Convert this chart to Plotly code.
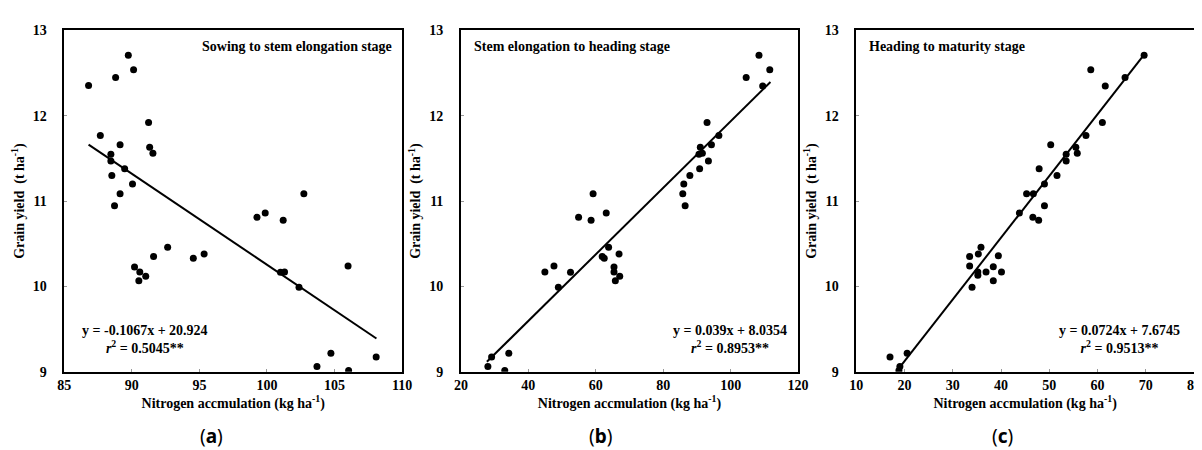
import plotly.graph_objects as go

# ---------------- data ----------------
xa = [86.8, 88.8, 89.74, 90.13, 87.67, 91.24, 89.13, 91.32, 91.56, 88.45, 88.45, 89.47, 88.52, 90.05,
      89.13, 88.72, 99.26, 99.87, 101.2, 102.73, 90.2, 90.59, 90.52, 91.03, 91.61, 92.65, 94.55, 95.35,
      101.0, 101.3, 102.37, 106.0, 103.7, 104.73, 106.04, 108.08]
ya = [12.354, 12.45, 12.71, 12.54, 11.77, 11.92, 11.66, 11.63, 11.56, 11.55, 11.47, 11.38, 11.30, 11.20,
      11.085, 10.945, 10.81, 10.86, 10.775, 11.085, 10.228, 10.17, 10.065, 10.12, 10.35, 10.46, 10.33, 10.38,
      10.167, 10.17, 9.99, 10.24, 9.06, 9.215, 9.015, 9.173]

xb = [108.4, 111.6, 104.6, 109.5, 93.0, 96.5, 94.3, 91.0, 91.6, 90.6, 93.4, 90.8, 87.9, 86.1, 85.8, 59.2,
      86.5, 54.9, 63.1, 58.6, 63.8, 61.9, 62.5, 66.9, 47.6, 44.9, 52.5, 65.4, 65.4, 65.8, 67.1, 48.9,
      28.0, 29.1, 34.2, 33.0]
yb = [12.71, 12.54, 12.45, 12.35, 11.92, 11.77, 11.66, 11.63, 11.56, 11.55, 11.47, 11.38, 11.30, 11.20,
      11.085, 11.085, 10.945, 10.81, 10.86, 10.775, 10.46, 10.35, 10.33, 10.38, 10.24, 10.17, 10.167, 10.228,
      10.17, 10.065, 10.12, 9.99, 9.06, 9.173, 9.215, 9.015]

xc = [69.65, 58.6, 65.7, 61.6, 61.0, 57.6, 50.3, 55.5, 55.8, 53.5, 53.5, 47.9, 51.6, 49.0, 45.3, 46.7,
      49.0, 43.8, 46.6, 47.8, 35.85, 33.5, 35.3, 39.45, 33.5, 38.4, 35.2, 36.9, 40.1, 35.2, 38.4, 34.0,
      17.0, 20.55, 19.05, 18.85]
yc = [12.71, 12.54, 12.45, 12.35, 11.92, 11.77, 11.66, 11.63, 11.56, 11.55, 11.47, 11.38, 11.30, 11.20,
      11.085, 11.085, 10.945, 10.86, 10.81, 10.775, 10.46, 10.35, 10.38, 10.36, 10.24, 10.23, 10.17, 10.17,
      10.17, 10.13, 10.065, 9.99, 9.173, 9.215, 9.06, 9.015]

slopes = [-0.1067, 0.039, 0.0724]
intercepts = [20.924, 8.0354, 7.6745]
fit_ranges = [[86.8, 108.1], [27.7, 111.8], [19.0, 69.65]]
r2_values = ["0.5045", "0.8953", "0.9513"]
eq_texts = ["y = -0.1067x + 20.924", "y = 0.039x + 8.0354", "y = 0.0724x + 7.6745"]
stage_titles = ["Sowing to stem elongation stage", "Stem elongation to heading stage", "Heading to maturity stage"]
panel_labels = ["a", "b", "c"]
x_ranges = [[85, 110], [20, 120], [10, 80]]
x_dticks = [5, 20, 10]
y_ticks = [9, 10, 11, 12, 13]

# ---------------- figure ----------------
W, H = 1202, 450
fig = go.Figure()

doms_px = [(50, 393), (452.7, 795), (854, 1197)]
y_top, y_bot = 16, 369
ydom = [(H - y_bot) / H, (H - y_top) / H]

serif = "Times New Roman, Liberation Serif, DejaVu Serif, serif"
datasets = [(xa, ya), (xb, yb), (xc, yc)]

for i, (xs, ys) in enumerate(datasets):
    ax = "" if i == 0 else str(i + 1)
    xref = "x" + ax
    yref = "y" + ax
    fig.add_trace(go.Scatter(x=xs, y=ys, mode="markers",
                             marker=dict(color="black", size=7),
                             xaxis=xref, yaxis=yref, showlegend=False, hoverinfo="x+y"))
    lx = fit_ranges[i]
    ly = [slopes[i] * v + intercepts[i] for v in lx]
    fig.add_trace(go.Scatter(x=lx, y=ly, mode="lines",
                             line=dict(color="black", width=2),
                             xaxis=xref, yaxis=yref, showlegend=False, hoverinfo="skip"))

    axis_common = dict(showline=True, linecolor="black", linewidth=1.5, mirror=True,
                       ticks="inside", ticklen=3, tickcolor="#999999", tickwidth=1,
                       showgrid=False, zeroline=False,
                       tickfont=dict(family=serif, size=14, color="black", weight="bold"))
    d = doms_px[i]
    fig.layout["xaxis" + ax] = dict(domain=[d[0] / W, d[1] / W], range=x_ranges[i],
                                    dtick=x_dticks[i], tick0=x_ranges[i][0],
                                    anchor=yref,
                                    title=dict(text="Nitrogen accmulation (kg ha<sup>-1</sup>)",
                                               font=dict(family=serif, size=14, color="black", weight="bold"),
                                               standoff=3),
                                    **axis_common)
    fig.layout["yaxis" + ax] = dict(domain=ydom, range=[9, 13], tickvals=y_ticks,
                                    anchor=xref, ticklabelstandoff=13,
                                    title=dict(text="Grain yield\u00a0\u00a0(t ha<sup>-1</sup>)",
                                               font=dict(family=serif, size=14, color="black", weight="bold"),
                                               standoff=5),
                                    **axis_common)

    # stage title
    if i == 0:
        fig.add_annotation(xref="paper", yref="paper", x=(d[1] - 8) / W, y=(H - 33) / H,
                           text="<b>" + stage_titles[i] + "</b>", showarrow=False,
                           xanchor="right", yanchor="middle",
                           font=dict(family=serif, size=14, color="black"))
    else:
        fig.add_annotation(xref="paper", yref="paper", x=(d[0] + 11) / W, y=(H - 33) / H,
                           text="<b>" + stage_titles[i] + "</b>", showarrow=False,
                           xanchor="left", yanchor="middle",
                           font=dict(family=serif, size=14, color="black"))

    # equation
    eq_cx = [132, 726, 1121][i]
    fig.add_annotation(xref="paper", yref="paper", x=eq_cx / W, y=(H - 336) / H,
                       text="<b>" + eq_texts[i] + "<br><i>r</i><sup>2</sup> = " + r2_values[i] + "**</b>",
                       showarrow=False, xanchor="center", yanchor="middle", align="center",
                       font=dict(family=serif, size=14, color="black"))

    # panel label
    lab_cx = [199, 594, 1003][i]
    fig.add_annotation(xref="paper", yref="paper", x=lab_cx / W, y=(H - 435) / H,
                       text="(<b>" + panel_labels[i] + "</b>)", showarrow=False,
                       xanchor="center", yanchor="middle",
                       font=dict(family="Noto Sans", size=19, color="black"))

fig.update_layout(width=W, height=H, margin=dict(l=0, r=0, t=0, b=0),
                  plot_bgcolor="white", paper_bgcolor="white")

fig.write_html("out.html")
